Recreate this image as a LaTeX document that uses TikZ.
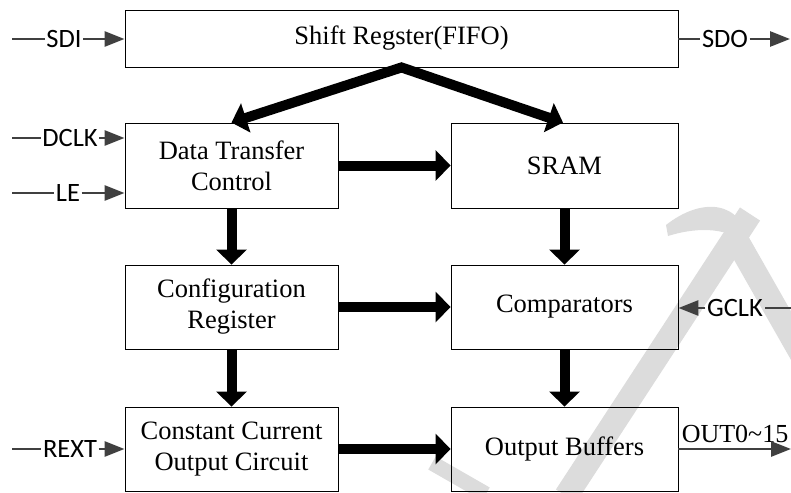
\documentclass[tikz,border=0pt]{standalone}
\usepackage{fontspec}
\setmainfont{Liberation Serif}
\newfontfamily\lblfont{Carlito}
\usetikzlibrary{arrows.meta}
\definecolor{wire}{HTML}{404040}
\definecolor{wmark}{HTML}{DCDCDC}
\tikzset{
  blk/.style={draw=black, line width=0.9pt, rectangle, inner sep=0pt, align=center,
    font=\fontsize{26.5}{31}\selectfont},
  lbl/.style={inner xsep=1.5pt, inner ysep=0pt, font=\lblfont\fontsize{26.5}{30}\selectfont},
  thin/.style={draw=wire, line width=2.7pt},
  thinarr/.style={thin, -{Triangle[length=20pt,width=15pt]}},
  bigarr/.style={draw=black, line width=10pt, -{Triangle[length=15pt,width=30pt]}},
  wm/.style={draw=wmark, line width=24pt, line cap=butt}
}
\begin{document}
\begin{tikzpicture}[x=1pt,y=-1pt]
\useasboundingbox (0,0) rectangle (791,492);
% watermark
\draw[wm] (566,496) -- (750,214);
\draw[wm] (732,232) -- (806,362);
\fill[wmark] (666,225) .. controls (700,198) and (742,198) .. (750,246) .. controls (730,228) and (700,226) .. (668,236) -- cycle;
\draw[wmark, line width=15pt] (432,463) -- (486,494);
% blocks
\node[blk, minimum width=553pt, minimum height=57pt] (SR) at (401.5,38.5) {Shift Regster(FIFO)};
\node[blk, minimum width=213pt, minimum height=85pt] (DTC) at (231.5,165.5) {Data Transfer\\Control};
\node[blk, minimum width=227pt, minimum height=85pt] (SRAM) at (564.5,165.5) {SRAM};
\node[blk, minimum width=213pt, minimum height=84pt] (CFG) at (231.5,307) {Configuration\\Register};
\node[blk, minimum width=227pt, minimum height=84pt] (CMP) at (564.5,307) {Comparators};
\node[blk, minimum width=213pt, minimum height=84pt] (CCO) at (231.5,449) {Constant Current\\Output Circuit};
\node[blk, minimum width=227pt, minimum height=84pt] (OB) at (564.5,449) {Output Buffers};
% thick arrows
\draw[draw=black, line width=10pt, line join=miter,
  {Triangle[length=15pt,width=30pt]}-{Triangle[length=15pt,width=30pt]}]
  (DTC.north) -- (SR.south) -- ([xshift=-1.5pt]SRAM.north);
\draw[bigarr] (DTC.east) -- (SRAM.west);
\draw[bigarr] (CFG.east) -- (CMP.west);
\draw[bigarr] (CCO.east) -- (OB.west);
\draw[bigarr] (DTC.south) -- (CFG.north);
\draw[bigarr] (CFG.south) -- (CCO.north);
\draw[bigarr] (SRAM.south) -- (CMP.north);
\draw[bigarr] (CMP.south) -- (OB.north);
% signal labels
\node[lbl] (sdi) at (64,39) {SDI};
\node[lbl] (dclk) at (70,138) {DCLK};
\node[lbl] (le) at (68,193) {LE};
\node[lbl] (rext) at (70,449) {REXT};
\node[lbl] (sdo) at (725,39) {SDO};
\node[lbl] (gclk) at (735,308) {GCLK};
\node[anchor=base, inner sep=0pt, font=\fontsize{26}{31}\selectfont] (out) at (735,442) {OUT0\textasciitilde 15};
% free ends
\coordinate (sdiS) at (12,39);
\coordinate (dclkS) at (12,138);
\coordinate (leS) at (12,193);
\coordinate (rextS) at (12,449);
\coordinate (sdoE) at (790,39);
\coordinate (gclkS) at (791,308);
\coordinate (outE) at (791,449);
% thin connectors
\draw[thin] (sdiS) -- (sdi.west);
\draw[thinarr] (sdi.east) -- (sdi.east -| SR.west);
\draw[thin] (dclkS) -- (dclk.west);
\draw[thinarr] (dclk.east) -- (dclk.east -| DTC.west);
\draw[thin] (leS) -- (le.west);
\draw[thinarr] (le.east) -- (le.east -| DTC.west);
\draw[thin] (rextS) -- (rext.west);
\draw[thinarr] (rext.east) -- (rext.east -| CCO.west);
\draw[thin] (sdo.west -| SR.east) -- (sdo.west);
\draw[thinarr] (sdo.east) -- (sdoE);
\draw[thin] (gclkS) -- (gclk.east);
\draw[thinarr] (gclk.west) -- (gclk.west -| CMP.east);
\draw[thinarr] (OB.east) -- (outE);
\end{tikzpicture}
\end{document}
